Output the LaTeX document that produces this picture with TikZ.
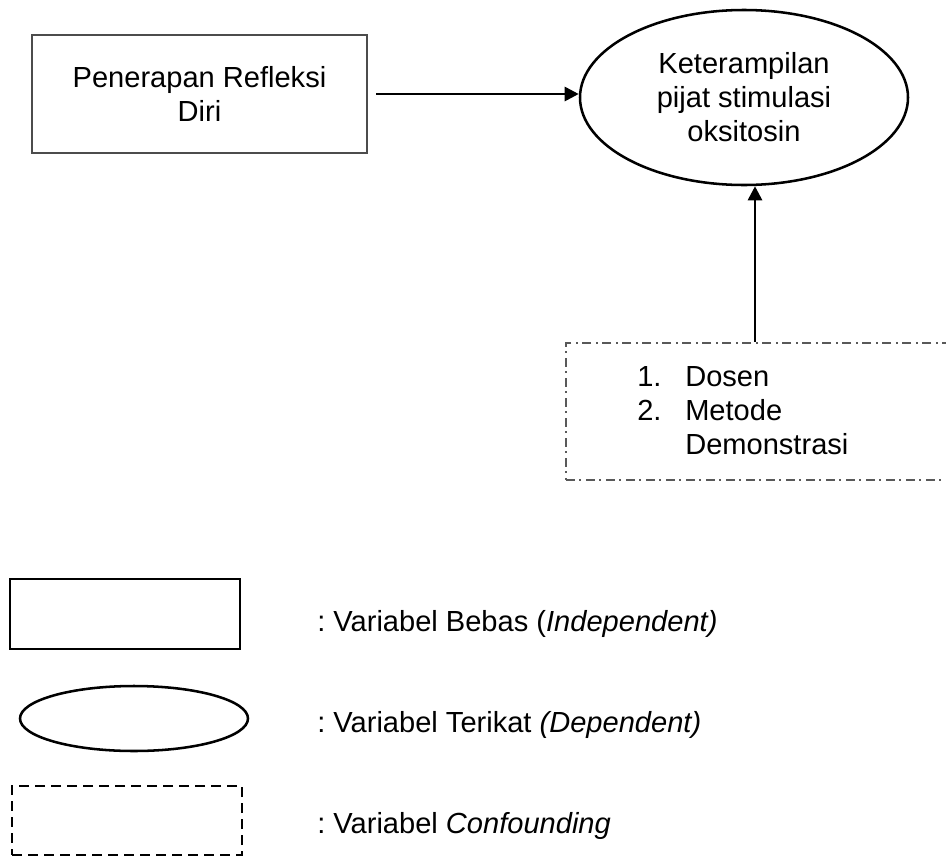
\documentclass[tikz,border=0pt]{standalone}
\usepackage{fontspec}
\setmainfont{Liberation Sans}
\usetikzlibrary{arrows.meta,shapes.geometric}
\frenchspacing
\begin{document}
\begin{tikzpicture}[x=0.75pt,y=-0.75pt,
  txt/.style={font=\fontsize{21.8pt}{25.5pt}\selectfont},
  varbox/.style={draw=black!70, line width=1.6pt, inner sep=0pt, align=center, txt},
  depell/.style={ellipse, draw, line width=1.9pt, inner sep=0pt, align=center, txt},
  confbox/.style={draw=black!65, line width=1.6pt, dash pattern=on 6.5pt off 3.5pt on 1.5pt off 3.5pt, inner sep=0pt},
  legrect/.style={draw, line width=1.9pt, inner sep=0pt, minimum width=230*0.75pt, minimum height=70*0.75pt},
  legell/.style={ellipse, draw, line width=1.9pt, inner sep=0pt, minimum width=228*0.75pt, minimum height=65*0.75pt},
  legdash/.style={draw, line width=1.9pt, dash pattern=on 7.5pt off 4.5pt, inner sep=0pt, minimum width=230*0.75pt, minimum height=69*0.75pt},
  legtxt/.style={txt, anchor=base west, inner sep=0pt},
  arr/.style={-{Triangle[length=10.5pt,width=10.5pt]}, line width=2pt}
]
\clip (0,0) rectangle (946,857);
\node[varbox, minimum width=335*0.75pt, minimum height=118*0.75pt] (iv) at (199.5,94) {Penerapan Refleksi\\Diri};
\node[depell, minimum width=328*0.75pt, minimum height=175*0.75pt] (dv) at (744,97.5) {Keterampilan\\pijat stimulasi\\oksitosin};
\node[confbox, minimum width=404*0.75pt, minimum height=137*0.75pt] (cv) at (768,411.5) {};
\node[txt, anchor=west, align=left, inner sep=0pt] (cvt) at (637,411) {\makebox[36pt][l]{1.}Dosen\\\makebox[36pt][l]{2.}Metode\\\hspace*{36pt}Demonstrasi};
\coordinate (va) at (755,0);
\draw[arr] ([xshift=6pt]iv.east) -- (dv.west |- iv.east);
\draw[arr] (cv.north -| va) -- (dv.south -| va);

\node[legrect] (l1) at (125,614) {};
\node[legell] (l2) at (134,718.5) {};
\node[legdash] (l3) at (127,820.5) {};
\node[legtxt] (t1) at (317,631) {: Variabel Bebas (\textit{Independent)}};
\node[legtxt] (t2) at (317,732) {: Variabel Terikat \textit{(Dependent)}};
\node[legtxt] (t3) at (317,833) {: Variabel \textit{Confounding}};
\end{tikzpicture}
\end{document}
